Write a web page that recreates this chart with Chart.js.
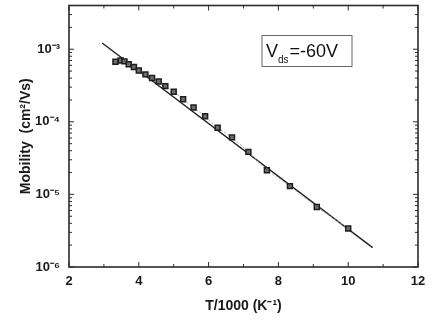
<!DOCTYPE html>
<html>
<head>
<meta charset="utf-8">
<script src="https://cdn.jsdelivr.net/npm/chart.js@4.4.1/dist/chart.umd.min.js"></script>
<style>
  html, body { margin: 0; padding: 0; background: #fff; }
  #wrap { width: 432px; height: 322px; }
</style>
</head>
<body>
<div id="wrap"><canvas id="chartId"></canvas></div>
<script>
// measured points: 1000/T vs mobility
const invT = [3.33, 3.48, 3.59, 3.71, 3.86, 4.00, 4.19, 4.38, 4.57, 4.76, 5.00,
  5.27, 5.57, 5.90, 6.26, 6.67, 7.14, 7.67, 8.33, 9.10, 10.00];
const mobility = [6.7e-4, 7.0e-4, 6.8e-4, 6.2e-4, 5.7e-4, 5.1e-4, 4.5e-4, 4.0e-4, 3.6e-4, 3.1e-4, 2.6e-4,
  2.05e-4, 1.57e-4, 1.19e-4, 8.3e-5, 6.1e-5, 3.85e-5, 2.15e-5, 1.3e-5, 6.7e-6, 3.4e-6];

// fitted straight line (end points)
const fitX = [2.95, 10.70];
const fitY = [1.22e-3, 1.85e-6];

const xTicks = [2, 4, 6, 8, 10, 12];
const yTicks = [1e-6, 1e-5, 1e-4, 1e-3];
const yTickLabels = ['10⁻⁶', '10⁻⁵', '10⁻⁴', '10⁻³'];
const boxLabel = ['V', 'ds', '=-60V'];

const ink = '#2b2b2b';

function line(ctx, x1, y1, x2, y2) {
  ctx.beginPath();
  ctx.moveTo(x1, y1);
  ctx.lineTo(x2, y2);
  ctx.stroke();
}

// frame with inward ticks on all four sides
const frame = {
  id: 'frame',
  afterDraw(chart) {
    const ctx = chart.ctx, a = chart.chartArea;
    const x = chart.scales.x, y = chart.scales.y;
    ctx.save();
    ctx.strokeStyle = ink;
    ctx.lineWidth = 1;
    for (let v = x.min; v <= x.max; v++) {
      const px = x.getPixelForValue(v);
      const len = v % 2 ? 3 : 5;
      line(ctx, px, a.bottom, px, a.bottom - len);
      line(ctx, px, a.top, px, a.top + len);
    }
    for (let e = -6; e <= -3; e++) {
      for (let m = 1; m <= 9; m++) {
        const v = m * Math.pow(10, e);
        if (v > y.max) break;
        const py = y.getPixelForValue(v);
        const len = m == 1 ? 5 : 3;
        line(ctx, a.left, py, a.left + len, py);
        line(ctx, a.right, py, a.right - len, py);
      }
    }
    ctx.lineWidth = 1.6;
    ctx.strokeRect(a.left, a.top, a.right - a.left, a.bottom - a.top);

    // V_ds label box
    const bx = a.left + 193, by = a.top + 30, bw = 90, bh = 31;
    ctx.lineWidth = 1;
    ctx.strokeStyle = '#666';
    ctx.strokeRect(bx, by, bw, bh);
    ctx.fillStyle = '#111';
    ctx.textBaseline = 'alphabetic';
    ctx.font = '18px "Liberation Sans", Arial, sans-serif';
    let tx = bx + 4;
    ctx.fillText(boxLabel[0], tx, by + 21);
    tx += ctx.measureText(boxLabel[0]).width;
    ctx.font = '10px "Liberation Sans", Arial, sans-serif';
    ctx.fillText(boxLabel[1], tx, by + 27);
    tx += ctx.measureText(boxLabel[1]).width + 1;
    ctx.font = '18px "Liberation Sans", Arial, sans-serif';
    ctx.fillText(boxLabel[2], tx, by + 21);
    ctx.restore();
  }
};

// keep the plot area fixed, no automatic label margins
function fixPad(s) {
  s.paddingTop = 0;
  s.paddingBottom = 0;
  s.paddingLeft = 0;
  s.paddingRight = 0;
}

const ctx = document.getElementById('chartId').getContext('2d');
const chart = new Chart(ctx, {
  type: 'scatter',
  data: {
    datasets: [{
      label: 'data',
      data: invT.map((v, i) => ({ x: v, y: mobility[i] })),
      showLine: true,
      borderColor: '#aaa',
      borderWidth: 1,
      borderDash: [2, 2],
      pointStyle: 'rect',
      pointRadius: 3.5,
      pointBackgroundColor: '#6e6e6e',
      pointBorderColor: '#1e1e1e',
      pointBorderWidth: 1.5
    }, {
      label: 'fit',
      data: fitX.map((v, i) => ({ x: v, y: fitY[i] })),
      showLine: true,
      borderColor: '#222',
      borderWidth: 1.4,
      pointRadius: 0
    }]
  },
  options: {
    responsive: true,
    maintainAspectRatio: false,
    animation: false,
    layout: { padding: { top: 5, right: 14, left: 0, bottom: 0 } },
    plugins: { legend: { display: false }, tooltip: { enabled: false } },
    scales: {
      x: {
        type: 'linear',
        min: 2,
        max: 12,
        afterFit: s => { s.height = 55; fixPad(s); },
        afterBuildTicks: s => { s.ticks = xTicks.map(v => ({ value: v })); },
        grid: { display: false, drawTicks: false },
        border: { display: false },
        ticks: {
          padding: 7,
          color: '#1a1a1a',
          font: { family: '"Liberation Sans", Arial, sans-serif', size: 13, weight: 'bold' }
        },
        title: {
          display: true,
          text: 'T/1000 (K⁻¹)',
          color: '#1a1a1a',
          padding: { bottom: 7 },
          font: { family: '"Liberation Sans", Arial, sans-serif', size: 14, weight: 'bold' }
        }
      },
      y: {
        type: 'logarithmic',
        min: 1e-6,
        max: 4e-3,
        afterFit: s => { s.width = 69; fixPad(s); },
        afterBuildTicks: s => { s.ticks = yTicks.map(v => ({ value: v })); },
        grid: { display: false, drawTicks: false },
        border: { display: false },
        ticks: {
          padding: 9,
          color: '#1a1a1a',
          font: { family: '"Liberation Sans", Arial, sans-serif', size: 13, weight: 'bold' },
          callback: v => yTickLabels[yTicks.indexOf(v)]
        },
        title: {
          display: true,
          text: 'Mobility  (cm²/Vs)',
          color: '#1a1a1a',
          padding: { top: 18 },
          font: { family: '"Liberation Sans", Arial, sans-serif', size: 14, weight: 'bold' }
        }
      }
    }
  },
  plugins: [frame]
});
</script>
</body>
</html>
